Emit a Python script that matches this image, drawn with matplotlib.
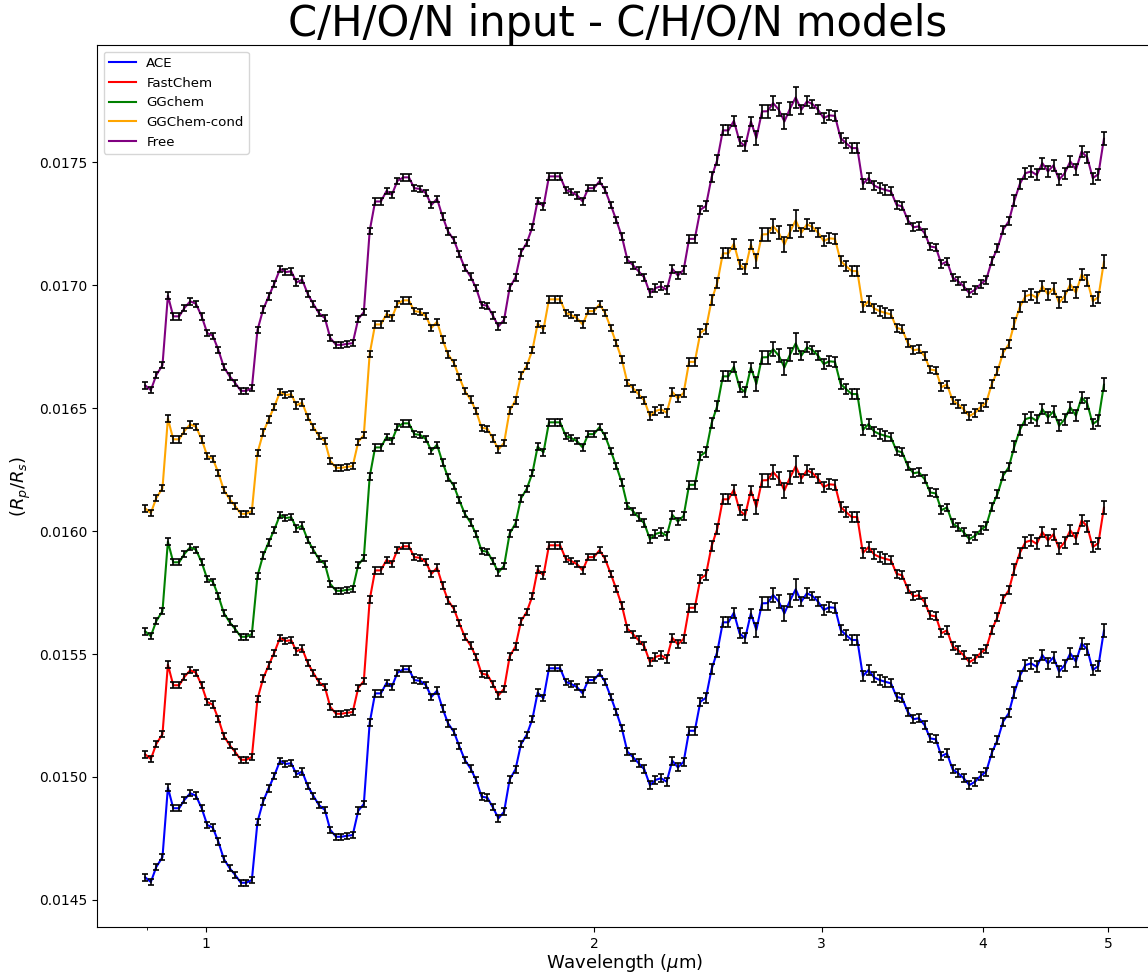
import numpy as np
import matplotlib
matplotlib.use("Agg")
import matplotlib.pyplot as plt
from matplotlib.ticker import FixedLocator, NullFormatter, ScalarFormatter, FormatStrFormatter

# wavelength grid (micron)
wavelength = [
    0.897, 0.906, 0.915, 0.925, 0.934, 0.943, 0.953, 0.962, 0.972, 0.982,
    0.992, 1.002, 1.012, 1.022, 1.032, 1.043, 1.053, 1.064, 1.074, 1.085,
    1.096, 1.107, 1.118, 1.129, 1.141, 1.152, 1.164, 1.175, 1.187, 1.199,
    1.211, 1.223, 1.236, 1.248, 1.261, 1.273, 1.286, 1.299, 1.312, 1.325,
    1.339, 1.352, 1.366, 1.380, 1.393, 1.407, 1.422, 1.436, 1.450, 1.465,
    1.480, 1.495, 1.510, 1.525, 1.540, 1.556, 1.571, 1.587, 1.603, 1.619,
    1.635, 1.652, 1.668, 1.685, 1.702, 1.719, 1.737, 1.754, 1.772, 1.790,
    1.807, 1.826, 1.844, 1.863, 1.881, 1.900, 1.919, 1.939, 1.958, 1.978,
    1.998, 2.018, 2.038, 2.059, 2.079, 2.100, 2.121, 2.143, 2.164, 2.186,
    2.208, 2.230, 2.252, 2.275, 2.298, 2.321, 2.345, 2.368, 2.392, 2.416,
    2.440, 2.465, 2.490, 2.515, 2.540, 2.565, 2.591, 2.617, 2.644, 2.670,
    2.697, 2.724, 2.751, 2.779, 2.807, 2.835, 2.864, 2.893, 2.922, 2.951,
    2.981, 3.011, 3.041, 3.072, 3.103, 3.134, 3.165, 3.197, 3.229, 3.262,
    3.294, 3.328, 3.361, 3.395, 3.429, 3.464, 3.498, 3.534, 3.569, 3.605,
    3.641, 3.678, 3.715, 3.752, 3.790, 3.828, 3.866, 3.905, 3.945, 3.984,
    4.024, 4.065, 4.106, 4.147, 4.189, 4.231, 4.273, 4.316, 4.360, 4.404,
    4.448, 4.493, 4.538, 4.583, 4.629, 4.676, 4.723, 4.771, 4.819, 4.867,
    4.916, 4.965,
]

# Rp/Rs of the ACE spectrum (the other models sit on top of it with an offset)
spectrum = [
    0.014592, 0.014573, 0.014635, 0.014674, 0.014957, 0.014873, 0.014873, 0.014907, 0.014934, 0.014924,
    0.014873, 0.014805, 0.014794, 0.014737, 0.014667, 0.014629, 0.014602, 0.014570, 0.014570, 0.014581,
    0.014818, 0.014900, 0.014954, 0.015004, 0.015066, 0.015053, 0.015056, 0.015011, 0.015022, 0.014963,
    0.014923, 0.014886, 0.014866, 0.014785, 0.014757, 0.014757, 0.014761, 0.014764, 0.014863, 0.014890,
    0.015221, 0.015340, 0.015340, 0.015383, 0.015367, 0.015424, 0.015438, 0.015438, 0.015394, 0.015391,
    0.015374, 0.015326, 0.015351, 0.015279, 0.015218, 0.015184, 0.015126, 0.015069, 0.015035, 0.014988,
    0.014920, 0.014916, 0.014877, 0.014832, 0.014859, 0.014990, 0.015031, 0.015133, 0.015171, 0.015235,
    0.015343, 0.015320, 0.015442, 0.015442, 0.015442, 0.015387, 0.015378, 0.015365, 0.015340, 0.015394,
    0.015394, 0.015422, 0.015387, 0.015326, 0.015265, 0.015198, 0.015103, 0.015080, 0.015056, 0.015031,
    0.014967, 0.014988, 0.014995, 0.014981, 0.015066, 0.015039, 0.015062, 0.015188, 0.015188, 0.015306,
    0.015322, 0.015439, 0.015509, 0.015629, 0.015629, 0.015668, 0.015584, 0.015564, 0.015665, 0.015598,
    0.015706, 0.015707, 0.015740, 0.015713, 0.015665, 0.015717, 0.015763, 0.015713, 0.015747, 0.015736,
    0.015713, 0.015679, 0.015690, 0.015688, 0.015598, 0.015577, 0.015557, 0.015557, 0.015411, 0.015435,
    0.015405, 0.015394, 0.015387, 0.015381, 0.015326, 0.015320, 0.015265, 0.015235, 0.015239, 0.015211,
    0.015157, 0.015153, 0.015085, 0.015096, 0.015031, 0.015015, 0.014995, 0.014967, 0.014981, 0.015004,
    0.015022, 0.015099, 0.015150, 0.015225, 0.015259, 0.015343, 0.015411, 0.015455, 0.015462, 0.015448,
    0.015496, 0.015462, 0.015487, 0.015428, 0.015455, 0.015503, 0.015469, 0.015543, 0.015519, 0.015435,
    0.015451, 0.015595,
]

# 1-sigma error bars, in units of 1e-5
errors = [
    1.3, 1.3, 1.3, 1.3, 1.5, 1.3, 1.3, 1.3, 1.3, 1.3,
    1.3, 1.3, 1.3, 1.3, 1.3, 1.3, 1.3, 1.3, 1.3, 1.3,
    1.3, 1.3, 1.3, 1.3, 1.3, 1.3, 1.3, 1.3, 1.3, 1.3,
    1.3, 1.3, 1.3, 1.3, 1.3, 1.3, 1.3, 1.3, 1.3, 1.3,
    1.3, 1.3, 1.3, 1.3, 1.3, 1.3, 1.3, 1.3, 1.3, 1.3,
    1.3, 1.3, 1.3, 1.3, 1.3, 1.3, 1.3, 1.3, 1.3, 1.3,
    1.3, 1.3, 1.3, 1.3, 1.3, 1.3, 1.3, 1.3, 1.3, 1.3,
    1.3, 1.3, 1.3, 1.3, 1.3, 1.3, 1.3, 1.3, 1.3, 1.3,
    1.3, 1.3, 1.3, 1.3, 1.3, 1.3, 1.3, 1.3, 1.6, 1.6,
    1.6, 1.6, 1.6, 1.6, 1.6, 1.6, 1.6, 1.6, 1.6, 1.6,
    2.0, 2.0, 2.0, 2.0, 2.0, 2.0, 2.0, 2.0, 2.0, 2.7,
    2.6, 2.6, 2.7, 2.6, 3.0, 2.6, 4.4, 1.9, 2.0, 1.6,
    1.8, 2.0, 2.0, 2.0, 2.0, 2.0, 2.0, 2.0, 2.0, 2.0,
    2.0, 2.0, 2.0, 1.6, 1.6, 1.6, 1.6, 1.6, 1.6, 1.6,
    1.6, 1.6, 1.6, 1.6, 1.6, 1.6, 1.6, 1.6, 1.6, 1.6,
    1.6, 1.6, 1.6, 1.6, 1.6, 2.2, 2.2, 2.2, 2.2, 2.2,
    2.2, 2.2, 2.2, 2.2, 2.2, 2.2, 2.2, 2.2, 2.2, 2.2,
    2.2, 2.6,
]

models = ["ACE", "FastChem", "GGchem", "GGChem-cond", "Free"]
offsets = [0.0, 0.0005, 0.0010, 0.0015, 0.0020]
colors = ["blue", "red", "green", "orange", "purple"]

wl = np.array(wavelength)
spec = np.array(spectrum)
err = np.array(errors) * 1e-5

fig = plt.figure(figsize=(11.48, 9.75), dpi=100)
ax = fig.add_axes([0.0845, 0.0492, 0.919, 0.9046])

for name, off, col in zip(models, offsets, colors):
    ax.plot(wl, spec + off, color=col, lw=1.5, label=name)
    ax.errorbar(wl, spec + off, yerr=err, fmt="none", ecolor="black",
                elinewidth=1.2, capsize=2, capthick=1.2)

ax.set_xscale("log")
ax.set_xlim(0.823, 5.41)
ax.set_ylim(0.01439, 0.017976)

ax.xaxis.set_major_locator(FixedLocator([1, 2, 3, 4, 5]))
ax.xaxis.set_major_formatter(ScalarFormatter())
ax.xaxis.set_minor_locator(FixedLocator([0.9]))
ax.xaxis.set_minor_formatter(NullFormatter())
ax.yaxis.set_major_formatter(FormatStrFormatter("%.4f"))
ax.tick_params(labelsize=10)

ax.set_xlabel(r"Wavelength ($\mu$m)", fontsize=13, labelpad=1)
ax.set_ylabel(r"$(R_p/R_s)$", fontsize=13)
ax.set_title("C/H/O/N input - C/H/O/N models", fontsize=30, x=0.493)
ax.legend(loc="upper left", fontsize=9.6)

fig.savefig("out.png", dpi=100)
